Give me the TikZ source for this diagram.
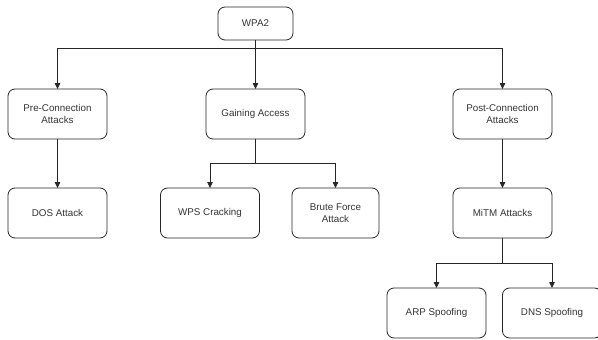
\documentclass[tikz,border=0pt]{standalone}
\usepackage{fontspec}
\setmainfont{Liberation Sans}
\usepackage{tikz}
\usetikzlibrary{positioning,arrows.meta}

\begin{document}
\begin{tikzpicture}[
  x=1pt,y=-1pt,
  font=\fontsize{9.8}{11.6}\selectfont,
  box/.style={draw=black!85,line width=0.8pt,rounded corners=7pt,align=center,
    minimum width=99pt,minimum height=50pt,inner sep=2pt,outer sep=0pt,text=black!80},
  fl/.style={-{Triangle[length=6pt,width=5.5pt]},line width=0.8pt,draw=black!85},
]
\useasboundingbox (0,0) rectangle (598,340);
% top
\node[box,minimum width=75pt,minimum height=33pt] (wpa) at (255.5,23.5) {WPA2};
% first level
\node[box] (pre) at (57.5,114) {Pre-Connection\\Attacks};
\node[box] (gain) at (255.5,114) {Gaining Access};
\node[box] (post) at (502.5,114) {Post-Connection\\Attacks};
% second level
\node[box,below=49pt of pre] (dos) {DOS Attack};
\node[box] (wps) at (210,213) {WPS Cracking};
\node[box,minimum width=87pt] (brute) at (335.5,213) {Brute Force\\Attack};
\node[box,below=49pt of post] (mitm) {MiTM Attacks};
% third level
\node[box] (arp) at (436.5,313) {ARP Spoofing};
\node[box] (dns) at (552,313) {DNS Spoofing};
% connectors
\draw[fl] (wpa.south) -- ++(0,8) -| (pre.north);
\draw[fl] (wpa.south) -- (gain.north);
\draw[fl] (wpa.south) -- ++(0,8) -| (post.north);
\draw[fl] (pre.south) -- (dos.north);
\draw[fl] (gain.south) -- ++(0,24) -| (wps.north);
\draw[fl] (gain.south) -- ++(0,24) -| (brute.north);
\draw[fl] (post.south) -- (mitm.north);
\draw[fl] (mitm.south) -- ++(0,25) -| (arp.north);
\draw[fl] (mitm.south) -- ++(0,25) -| (dns.north);
\end{tikzpicture}
\end{document}
